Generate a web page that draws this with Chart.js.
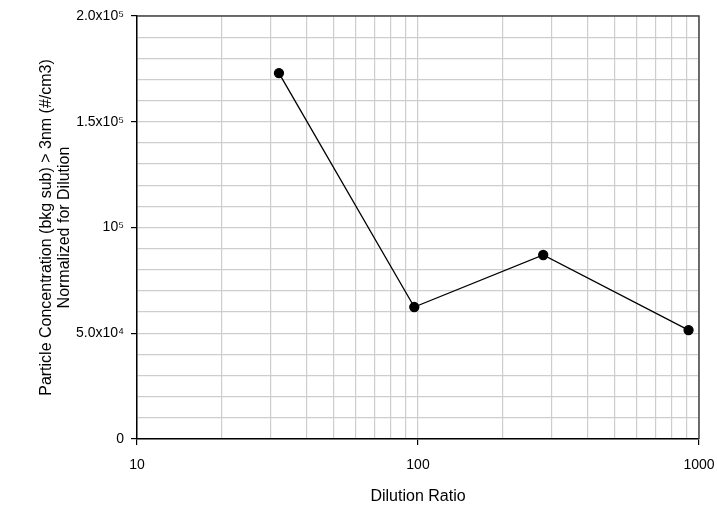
<!DOCTYPE html>
<html>
<head>
<meta charset="utf-8">
<script src="https://cdn.jsdelivr.net/npm/chart.js@4"></script>
<style>
  html,body{margin:0;padding:0;background:#fff;}
  #wrap{width:717px;height:510px;position:relative;}
</style>
</head>
<body>
<div id="wrap"><canvas id="chart" width="717" height="510"></canvas></div>
<script>
// data
const dilution = [32, 97, 279, 918];
const concentration = [173000, 62400, 87000, 51500];
const xMajor = [10, 100, 1000];
const yLabels = {0:'0', 50000:'5.0x10\u2074', 100000:'10\u2075', 150000:'1.5x10\u2075', 200000:'2.0x10\u2075'};
const xTitle = 'Dilution Ratio';
const yTitle = ['Particle Concentration (bkg sub) > 3nm (#/cm3)', 'Normalized for Dilution'];

const FONT = 'Liberation Sans, Arial, Helvetica, sans-serif';

// frame round the plot area (top/right edges)
const frame = {
  id:'frame',
  afterDraw(c){
    const a=c.chartArea, g=c.ctx;
    g.save();
    g.strokeStyle='#444'; g.lineWidth=1.5;
    g.beginPath();
    g.moveTo(a.left, a.top); g.lineTo(a.right, a.top); g.lineTo(a.right, a.bottom);
    g.stroke();
    g.restore();
  }
};

new Chart(document.getElementById('chart').getContext('2d'), {
  type:'scatter',
  data:{ datasets:[{
    data: dilution.map((x,i)=>({x:x, y:concentration[i]})),
    showLine:true, borderColor:'#000', borderWidth:1.3,
    pointRadius:4.5, pointBackgroundColor:'#000', pointBorderColor:'#000', pointHoverRadius:4.5
  }]},
  options:{
    responsive:false, animation:false,
    layout:{ padding:{ top:16, right:18, left:0, bottom:0 } },
    plugins:{ legend:{display:false}, tooltip:{enabled:false} },
    scales:{
      x:{
        type:'logarithmic', min:10, max:1000,
        afterBuildTicks(s){
          const t=[];
          for(let d=10; d<1000; d*=10) for(let k=1;k<10;k++) t.push({value:d*k});
          t.push({value:1000});
          s.ticks=t;
        },
        afterFit(s){ s.height=71; s.paddingLeft=0; s.paddingRight=0; },
        border:{ display:true, color:'#000', width:1.5 },
        grid:{
          color:'#cdcdcd',
          lineWidth:1.2,
          tickLength:6,
          tickColor:(c)=> (c.tick && xMajor.includes(c.tick.value)) ? '#000' : 'rgba(0,0,0,0)'
        },
        ticks:{
          autoSkip:false, maxRotation:0, padding:12,
          color:'#000', font:{family:FONT, size:14},
          callback:(v)=> xMajor.includes(v) ? String(v) : ''
        },
        title:{ display:true, text:xTitle, color:'#000', font:{family:FONT, size:16}, padding:{top:10} }
      },
      y:{
        min:0, max:200000,
        afterFit(s){ s.width=137; s.paddingTop=0; s.paddingBottom=0; },
        border:{ display:true, color:'#000', width:1.5 },
        grid:{
          color:'#cdcdcd', lineWidth:1.2, tickLength:6,
          tickColor:(c)=> (c.tick && yLabels[c.tick.value]!==undefined) ? '#000' : 'rgba(0,0,0,0)'
        },
        ticks:{
          stepSize:10000, autoSkip:false, padding:7,
          color:'#000', font:{family:FONT, size:14},
          callback:(v)=> yLabels[v]!==undefined ? yLabels[v] : ''
        },
        title:{ display:true, text:yTitle, color:'#000', font:{family:FONT, size:16, lineHeight:1.15}, padding:{top:37,bottom:0} }
      }
    }
  },
  plugins:[frame]
});
</script>
</body>
</html>
